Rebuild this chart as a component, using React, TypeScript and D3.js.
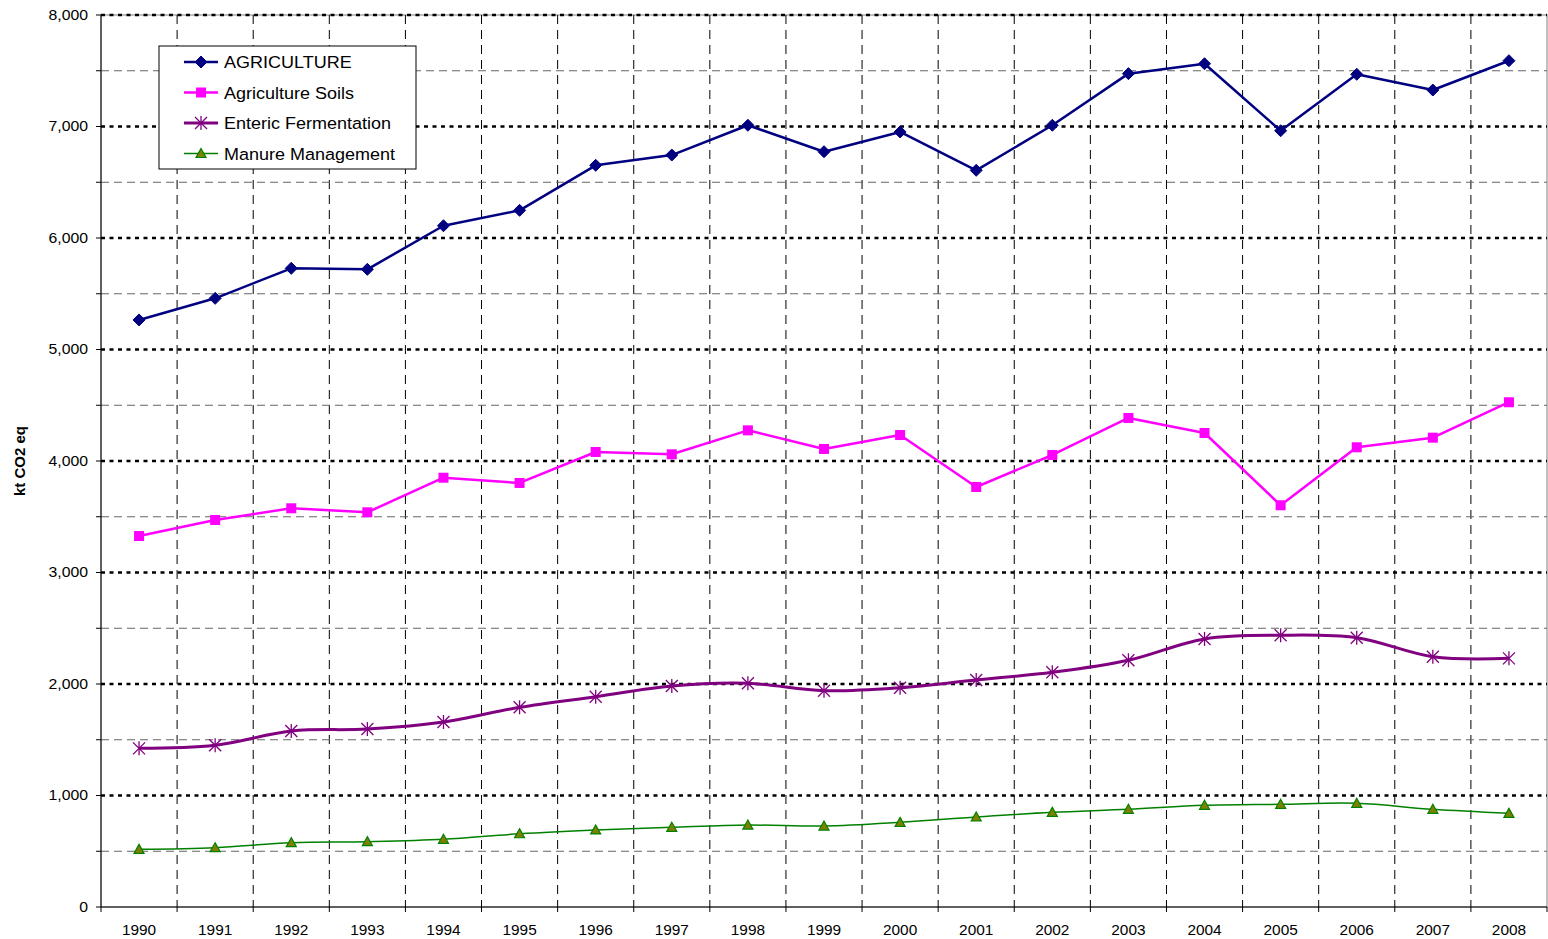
import React from "react";
import * as d3 from "d3";

const years = ["1990","1991","1992","1993","1994","1995","1996","1997","1998","1999","2000","2001","2002","2003","2004","2005","2006","2007","2008"];
const agriculture = [5265,5459,5728,5719,6110,6248,6652,6744,7011,6774,6951,6607,7011,7474,7563,6962,7468,7327,7590];
const agriSoils = [3327,3471,3576,3540,3850,3803,4081,4060,4275,4108,4233,3767,4054,4386,4251,3603,4123,4209,4527];
const enteric = [1423,1450,1578,1596,1659,1791,1886,1982,2006,1940,1967,2036,2105,2213,2404,2437,2415,2245,2230];
const manure = [517,532,577,586,607,657,691,715,735,726,759,807,849,876,912,921,930,876,840];
const yTicks = [0,1000,2000,3000,4000,5000,6000,7000,8000];
const yMinor = [500,1500,2500,3500,4500,5500,6500,7500];
const seriesNames = ["AGRICULTURE","Agriculture Soils","Enteric Fermentation","Manure Management"];

const W = 1548, H = 939;
const L = 101, R = 1547, T = 15, B = 907;
const FONT = "'Liberation Sans', Arial, sans-serif";

type Marker = "diamond" | "square" | "star" | "triangle";

function MarkerShape({ type, x, y, color }: { type: Marker; x: number; y: number; color: string }) {
  if (type === "diamond") {
    const s = 6;
    return <path d={`M${x},${y - s}L${x + s},${y}L${x},${y + s}L${x - s},${y}Z`} fill={color} stroke={color} strokeWidth={1} />;
  }
  if (type === "square") {
    const s = 5;
    return <rect x={x - s} y={y - s} width={2 * s} height={2 * s} fill={color} />;
  }
  if (type === "star") {
    const s = 6;
    return (
      <g stroke={color} strokeWidth={1.3}>
        <line x1={x - s} y1={y - s} x2={x + s} y2={y + s} />
        <line x1={x - s} y1={y + s} x2={x + s} y2={y - s} />
        <line x1={x} y1={y - s - 1} x2={x} y2={y + s + 1} />
      </g>
    );
  }
  const s = 5;
  return <path d={`M${x},${y - s}L${x + s},${y + s * 0.8}L${x - s},${y + s * 0.8}Z`} fill="#808000" stroke="#008000" strokeWidth={1.2} />;
}

function SText({ x, y, anchor, size, sx, weight, children }: { x: number; y: number; anchor: string; size: number; sx: number; weight?: string; children: React.ReactNode }) {
  return (
    <text transform={`translate(${x},${y}) scale(${sx},1)`} dy="0.35em" textAnchor={anchor} fontFamily={FONT} fontSize={size} fontWeight={weight} fill="#000">
      {children}
    </text>
  );
}

export default function App() {
  const x = d3.scaleBand<string>().domain(years).range([L, R]);
  const y = d3.scaleLinear().domain([0, 8000]).range([B, T]);
  const cx = (yr: string) => (x(yr) as number) + x.bandwidth() / 2;

  const series = [
    { name: seriesNames[0], values: agriculture, color: "#000080", width: 2.5, marker: "diamond" as Marker, smooth: false },
    { name: seriesNames[1], values: agriSoils, color: "#FF00FF", width: 2.5, marker: "square" as Marker, smooth: false },
    { name: seriesNames[2], values: enteric, color: "#800080", width: 3, marker: "star" as Marker, smooth: true },
    { name: seriesNames[3], values: manure, color: "#008000", width: 1.5, marker: "triangle" as Marker, smooth: true },
  ];

  const boundaries = d3.range(years.length + 1).map((i) => L + i * x.step());

  return (
    <svg width={W} height={H} style={{ position: "absolute", left: 0, top: 0, background: "#fff" }}>
      <rect x={0} y={0} width={W} height={H} fill="#fff" />
      <rect x={L} y={T} width={R - L} height={B - T} fill="#fff" stroke="#808080" strokeWidth={1} />
      {boundaries.slice(1, -1).map((bx, i) => (
        <line key={"v" + i} x1={bx} x2={bx} y1={T} y2={B} stroke="#000" strokeWidth={1} strokeDasharray="9,6" />
      ))}
      {yMinor.map((v) => (
        <line key={"m" + v} x1={L} x2={R} y1={y(v)} y2={y(v)} stroke="#666" strokeWidth={1} strokeDasharray="8,5" />
      ))}
      {yTicks.filter((v) => v > 0).map((v) => (
        <line key={"M" + v} x1={L} x2={R} y1={y(v)} y2={y(v)} stroke="#000" strokeWidth={2.5} strokeDasharray="4,4.5" />
      ))}
      <line x1={L} x2={L} y1={T} y2={B} stroke="#000" strokeWidth={1} />
      <line x1={L} x2={R} y1={B} y2={B} stroke="#000" strokeWidth={1} />
      {[...yTicks, ...yMinor].map((v) => (
        <line key={"yt" + v} x1={L - 5} x2={L} y1={y(v)} y2={y(v)} stroke="#000" strokeWidth={1} />
      ))}
      {boundaries.map((bx, i) => (
        <line key={"xt" + i} x1={bx} x2={bx} y1={B} y2={B + 5} stroke="#000" strokeWidth={1} />
      ))}
      {yTicks.map((v) => (
        <SText key={"yl" + v} x={L - 13} y={y(v)} anchor="end" size={14} sx={1.13}>
          {d3.format(",")(v)}
        </SText>
      ))}
      {years.map((yr) => (
        <SText key={"xl" + yr} x={cx(yr)} y={B + 23} anchor="middle" size={14} sx={1.1}>
          {yr}
        </SText>
      ))}
      <text transform={`translate(25,${(T + B) / 2}) rotate(-90)`} textAnchor="middle" fontFamily={FONT} fontSize={15} fontWeight="bold" fill="#000">
        kt CO2 eq
      </text>
      {series.map((s) => {
        const line = d3
          .line<number>()
          .x((_, i) => cx(years[i]))
          .y((d) => y(d))
          .curve(s.smooth ? d3.curveCatmullRom.alpha(0.5) : d3.curveLinear);
        return (
          <g key={s.name}>
            <path d={line(s.values) || ""} fill="none" stroke={s.color} strokeWidth={s.width} strokeLinejoin="round" />
            {s.values.map((v, i) => (
              <MarkerShape key={i} type={s.marker} x={cx(years[i])} y={y(v)} color={s.color} />
            ))}
          </g>
        );
      })}
      <g>
        <rect x={159} y={46} width={257} height={123} fill="#fff" stroke="#000" strokeWidth={1} />
        {series.map((s, i) => {
          const ly = 62 + i * 30.5;
          return (
            <g key={"lg" + s.name}>
              <line x1={184} x2={218} y1={ly} y2={ly} stroke={s.color} strokeWidth={s.width} />
              <MarkerShape type={s.marker} x={201} y={ly} color={s.color} />
              <SText x={224} y={ly + 0.5} anchor="start" size={17} sx={1.06}>
                {s.name}
              </SText>
            </g>
          );
        })}
      </g>
    </svg>
  );
}
